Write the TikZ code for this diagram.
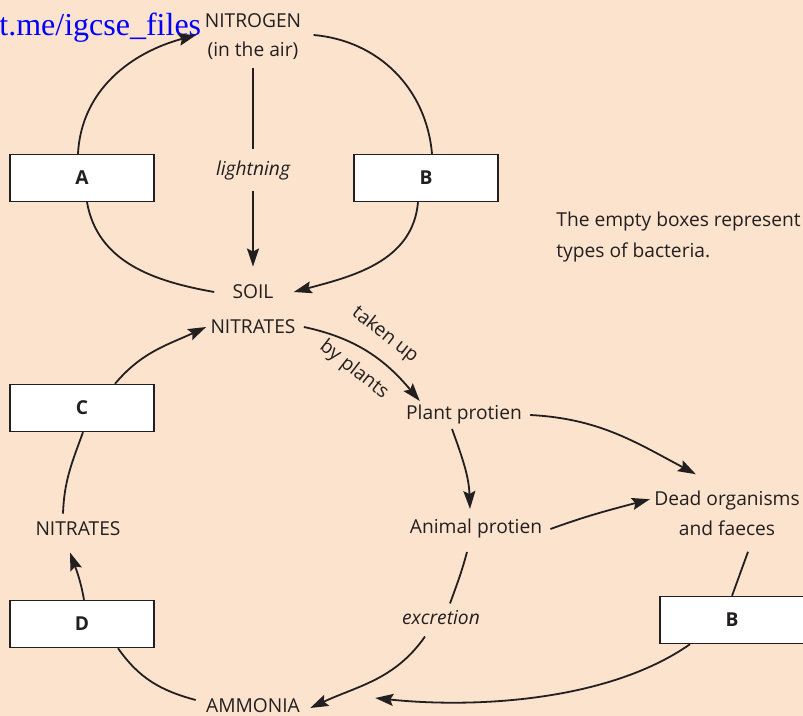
\documentclass[tikz,border=0pt]{standalone}
\usepackage{fontspec}
\setmainfont{Open Sans}
\newfontfamily\linkfont{Liberation Serif}
\usepackage{tikz}
\usetikzlibrary{arrows.meta, positioning, calc}
\definecolor{peach}{RGB}{252,227,205}
\definecolor{ink}{RGB}{35,31,32}

\begin{document}
\begin{tikzpicture}[
    x=0.5pt, y=0.5pt,
    font=\fontsize{9.6}{11}\selectfont,
    txt/.style={text=ink, inner sep=2pt},
    bactbox/.style={rectangle, draw=ink, fill=white, line width=0.7pt, minimum width=72pt, minimum height=23.5pt, inner sep=0pt, text=ink, font=\fontsize{9.6}{11}\selectfont\bfseries},
    arrow/.style={-{Stealth[length=9pt, width=6pt, inset=1.5pt]}, line width=0.9pt, draw=ink},
    line/.style={line width=0.9pt, draw=ink}
]

% Background
\path[use as bounding box, fill=peach] (0,0) rectangle (803,-716);

% Top loop
\node[txt, align=center, font=\fontsize{9.6}{14.5}\selectfont] (nitrogen) at (253,-37) {NITROGEN\\(in the air)};
\node[bactbox] (boxA) at (82,-178) {A};
\node[bactbox] (boxB) at (426,-178) {B};
\node[txt, font=\fontsize{9.6}{11}\selectfont\itshape] (lightning) at (253,-171) {lightning};
\node[txt] (soil) at (253,-292) {SOIL};
\node[txt] (nitrates) at (253,-327) {NITRATES};

% Plants and animals
\node[txt] (plant) at (464,-415) {Plant protien};
\node[txt, rotate=-38] (takenup) at (385,-335) {taken up};
\node[txt, rotate=-38] (byplants) at (354,-370) {by plants};
\node[txt] (animal) at (476,-529) {Animal protien};
\node[txt, align=center, font=\fontsize{9.6}{15}\selectfont] (dead) at (727,-513) {Dead organisms\\and faeces};
\node[bactbox] (boxE) at (732,-620) {B};
\node[txt, font=\fontsize{9.6}{11}\selectfont\itshape] (excretion) at (441,-618) {excretion};
\node[txt] (ammonia) at (253,-706) {AMMONIA};

% Left loop
\node[txt] (nitratesL) at (78,-529) {NITRATES};
\node[bactbox] (boxC) at (82,-408) {C};
\node[bactbox] (boxD) at (82,-624) {D};

% Note and link
\node[txt, anchor=west, align=left, font=\fontsize{9.6}{15.5}\selectfont] (note) at (552,-237) {The empty boxes represent\\types of bacteria.};
\node[anchor=base west, inner sep=0pt, text=blue, font=\linkfont\fontsize{16}{18}\selectfont] (link) at (-1,-36) {t.me/igcse\_files};

% Arrows
\draw[arrow] ([xshift=-2pt]boxA.north) to[out=87, in=195] ([shift={(-2pt,1pt)}]nitrogen.west);
\draw[line] ([shift={(4pt,1pt)}]nitrogen.east) to[out=-5, in=95] ([xshift=3pt]boxB.north);
\draw[arrow] ([xshift=-4pt]boxB.south) to[out=-95, in=15] ([xshift=8pt]soil.east);
\draw[line] ([xshift=-7pt]soil.west) to[out=170, in=-80] ([xshift=2.5pt]boxA.south);
\draw[line, shorten <=2pt, shorten >=4pt] (nitrogen) -- (lightning);
\draw[arrow, shorten <=3pt, shorten >=7pt] (lightning) -- (soil);

\draw[arrow] ([xshift=2pt]nitrates.east) to[out=-12, in=130] ([xshift=9pt]plant.north west);
\draw[arrow] ([xshift=2pt]plant.east) to[out=-3, in=152] ([shift={(23pt,6pt)}]dead.north west);
\draw[arrow] ([xshift=-6pt]plant.south) to[out=-70, in=92] ([shift={(-3pt,3pt)}]animal.north);
\draw[arrow] ([xshift=2pt]animal.east) to[out=20, in=195] ([yshift=-6.5pt]dead.north west);
\draw[line] ([shift={(10.5pt,-6pt)}]dead.south) to[out=-110, in=70] (boxE.north);
\draw[arrow] ([xshift=-21pt]boxE.south) to[out=-145, in=-6, looseness=0.8] ([shift={(35.5pt,4pt)}]ammonia.east);
\draw[line] ([shift={(-4.5pt,-4.5pt)}]animal.south) to[out=-105, in=70] ([shift={(4.5pt,1.5pt)}]excretion.north);
\draw[arrow] ([shift={(-8pt,-3.5pt)}]excretion.south) to[out=-125, in=25] ([shift={(3pt,-1pt)}]ammonia.east);

\draw[line] ([shift={(-3pt,3pt)}]ammonia.west) to[out=165, in=-55] ([xshift=18pt]boxD.south);
\draw[arrow] ([xshift=1pt]boxD.north) to[out=100, in=-70] ([shift={(-4pt,-6pt)}]nitratesL.south);
\draw[line] ([shift={(-7.5pt,2pt)}]nitratesL.north) to[out=88, in=-110] ([xshift=0.5pt]boxC.south);
\draw[arrow] ([xshift=16.5pt]boxC.north) to[out=50, in=205] (nitrates.west);

\end{tikzpicture}
\end{document}
